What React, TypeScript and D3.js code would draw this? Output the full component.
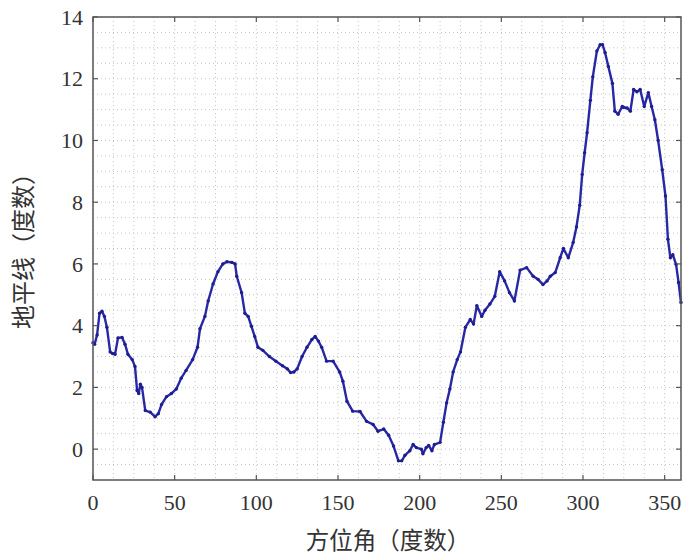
import React from "react";
import * as d3 from "d3";

const azimuth = [0,1,2.5,4,5.5,7,8.5,10.5,12,13.5,15.3,17.8,19.6,21.4,24,25.7,27,28,29,30,32,35,38,40,42,45,48,51,54,57,61,64,65.5,68.5,70.5,73.5,76.5,79.5,82,85,87,88,91,93,95,97,99,101,104,108,112,116,119,121,123,125,128,131,134,136,138,140,143,147,151,153,155.5,159,163.5,167.5,171.5,174.5,178,181,184,187,189,191,194,196,198,201,202,204,205.5,207.5,209,212.5,214.5,216.5,218.5,220.5,223,225,228,231,233,235,238,240,243,246,249,252,255,258,261.5,265.5,269.5,272.5,275.5,278,280,283,286,288,291,294,296,298,299.5,301,302.5,304.5,306,308.5,310.5,312,313.5,315.5,318,319.5,321.5,324,327,329,331,333,335,337.5,340,342,344,346,348.5,350.5,352,353.5,355,357,358.5,360];
const horizon = [3.45,3.4,3.7,4.4,4.47,4.3,3.95,3.15,3.1,3.07,3.6,3.62,3.4,3.07,2.9,2.68,1.9,1.8,2.1,2.0,1.25,1.2,1.05,1.15,1.45,1.7,1.8,1.95,2.3,2.55,2.9,3.3,3.9,4.3,4.8,5.35,5.75,6.0,6.07,6.05,6.0,5.6,5.07,4.4,4.3,3.98,3.65,3.3,3.2,3.0,2.85,2.7,2.6,2.48,2.5,2.6,3.0,3.3,3.55,3.65,3.5,3.3,2.85,2.85,2.5,2.2,1.55,1.23,1.22,0.9,0.8,0.58,0.65,0.45,0.1,-0.38,-0.38,-0.2,-0.05,0.15,0.05,0.0,-0.15,0.05,0.12,-0.05,0.15,0.22,0.87,1.5,1.95,2.5,2.9,3.15,3.95,4.2,4.05,4.65,4.3,4.5,4.7,4.95,5.75,5.45,5.07,4.8,5.8,5.88,5.6,5.5,5.33,5.45,5.6,5.72,6.2,6.5,6.2,6.7,7.2,7.9,8.9,9.6,10.25,11.3,12.06,12.9,13.1,13.1,12.85,12.4,11.85,10.95,10.85,11.1,11.05,10.95,11.65,11.58,11.65,11.1,11.55,11.1,10.67,10.0,9.05,8.2,6.8,6.2,6.3,5.98,5.4,4.75];

const xTicks = [0, 50, 100, 150, 200, 250, 300, 350];
const yTicks = [0, 2, 4, 6, 8, 10, 12, 14];
const xLabel = "方位角（度数）";
const yLabel = "地平线（度数）";

export default function App() {
  const W = 684, H = 555;
  const L = 93, R = 681, T = 17, B = 480;
  const x = d3.scaleLinear().domain([0, 360]).range([L, R]);
  const y = d3.scaleLinear().domain([-1, 14]).range([B, T]);
  const pts: [number, number][] = azimuth.map((a, i) => [a, horizon[i]]);
  const line = d3.line<[number, number]>().x(d => x(d[0])).y(d => y(d[1]));
  const minorX = d3.range(0, 360.01, 12.5);
  const minorY = d3.range(-1, 14.01, 0.5);
  const gridColor = "#c4c4c4";
  const axisColor = "#555";
  const tickFont = "'Liberation Serif', 'DejaVu Serif', serif";
  const cjkFont = "'Noto Sans CJK SC', sans-serif";
  return (
    <svg width={W} height={H} style={{ position: "absolute", left: 0, top: 0, background: "#fff" }}>
      <rect x={0} y={0} width={W} height={H} fill="#fff" />
      <g>
        {minorX.map((v, i) => (
          <line key={"gx" + i} x1={x(v)} x2={x(v)} y1={T} y2={B} stroke={gridColor} strokeWidth={1} strokeDasharray="1,3" />
        ))}
        {minorY.map((v, i) => (
          <line key={"gy" + i} x1={L} x2={R} y1={y(v)} y2={y(v)} stroke={gridColor} strokeWidth={1} strokeDasharray="1,3" />
        ))}
      </g>
      <path d={line(pts) || ""} fill="none" stroke="#2828a4" strokeWidth={2.4} strokeLinejoin="round" />
      {pts.map((p, i) => (
        <circle key={"m" + i} cx={x(p[0])} cy={y(p[1])} r={1.7} fill="#1e1e90" />
      ))}
      <rect x={L} y={T} width={R - L} height={B - T} fill="none" stroke={axisColor} strokeWidth={1.5} />
      {xTicks.map(t => (
        <g key={"xt" + t}>
          <line x1={x(t)} x2={x(t)} y1={B} y2={B - 5} stroke={axisColor} strokeWidth={1.2} />
          <line x1={x(t)} x2={x(t)} y1={T} y2={T + 5} stroke={axisColor} strokeWidth={1.2} />
          <text x={x(t)} y={510} textAnchor="middle" fontFamily={tickFont} fontSize={22} fill="#333">{t}</text>
        </g>
      ))}
      {yTicks.map(t => (
        <g key={"yt" + t}>
          <line x1={L} x2={L + 5} y1={y(t)} y2={y(t)} stroke={axisColor} strokeWidth={1.2} />
          <line x1={R} x2={R - 5} y1={y(t)} y2={y(t)} stroke={axisColor} strokeWidth={1.2} />
          <text x={83} y={y(t)} dy="0.35em" textAnchor="end" fontFamily={tickFont} fontSize={22} fill="#333">{t}</text>
        </g>
      ))}
      <text x={388} y={549} textAnchor="middle" fontFamily={cjkFont} fontSize={23.5} fill="#333">{xLabel}</text>
      <text transform="translate(32,245) rotate(-90)" textAnchor="middle" fontFamily={cjkFont} fontSize={24} fill="#333">{yLabel}</text>
    </svg>
  );
}
